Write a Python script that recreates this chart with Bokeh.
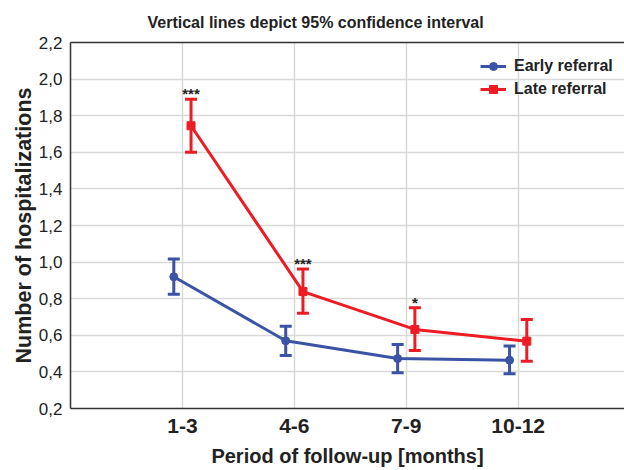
from bokeh.plotting import figure
from bokeh.models import (ColumnDataSource, Whisker, TeeHead, Range1d, FixedTicker,
                          LinearAxis, Legend, LegendItem)
from bokeh.core.properties import value
from bokeh.embed import file_html
from bokeh.resources import INLINE

# ---- data ----
periods = ["1-3", "4-6", "7-9", "10-12"]
early_mean = [0.92, 0.57, 0.473, 0.464]
early_lower = [0.825, 0.49, 0.395, 0.39]
early_upper = [1.017, 0.65, 0.55, 0.541]
late_mean = [1.745, 0.839, 0.632, 0.568]
late_lower = [1.60, 0.72, 0.517, 0.458]
late_upper = [1.89, 0.962, 0.751, 0.687]
stars = ["***", "***", "*", ""]
y_ticks = [0.2, 0.4, 0.6, 0.8, 1.0, 1.2, 1.4, 1.6, 1.8, 2.0, 2.2]

BLUE = "#3a53a4"
RED = "#ed1c24"
FONT = "Liberation Sans"
TXT = "#222222"
OFF = 0.077

pos = list(range(1, len(periods) + 1))
early_src = ColumnDataSource(dict(x=[p - OFF for p in pos], y=early_mean,
                                  lo=early_lower, hi=early_upper))
late_src = ColumnDataSource(dict(x=[p + OFF for p in pos], y=late_mean,
                                 lo=late_lower, hi=late_upper, s=stars))

p = figure(width=624, height=470, output_backend="svg", toolbar_location=None,
           x_range=Range1d(0, 4.95), y_range=Range1d(0.2, 2.2),
           min_border_left=70, min_border_right=0, min_border_top=10,
           min_border_bottom=62)

p.title.text = "Vertical lines depict 95% confidence interval"
p.title.align = "left"
p.title.offset = 77
p.title.text_font = FONT
p.title.text_font_size = "16px"
p.title.text_font_style = "bold"
p.title.text_color = TXT
p.title.standoff = 23

p.outline_line_color = None
p.background_fill_color = "white"
p.grid.grid_line_color = "#d9d9d9"
p.grid.grid_line_width = 1.5

# x axis
p.xaxis.ticker = FixedTicker(ticks=pos)
p.xaxis.major_label_overrides = {i: lab for i, lab in zip(pos, periods)}
p.xaxis.major_label_text_font = FONT
p.xaxis.major_label_text_font_size = "21px"
p.xaxis.major_label_text_font_style = "bold"
p.xaxis.major_label_text_color = TXT
p.xaxis.major_label_standoff = 4
p.xaxis.axis_label = "Period of follow-up [months]"
p.xaxis.axis_label_text_font = FONT
p.xaxis.axis_label_text_font_size = "20px"
p.xaxis.axis_label_text_font_style = "bold"
p.xaxis.axis_label_text_color = TXT
p.xaxis.axis_label_standoff = 9

# y axis
p.yaxis.ticker = FixedTicker(ticks=y_ticks)
p.yaxis.major_label_overrides = {t: f"{t:.1f}".replace(".", ",") for t in y_ticks}
p.yaxis.major_label_text_font = FONT
p.yaxis.major_label_text_font_size = "17px"
p.yaxis.major_label_text_color = TXT
p.yaxis.major_label_standoff = 2
p.yaxis.axis_label = "Number of hospitalizations"
p.yaxis.axis_label_text_font = FONT
p.yaxis.axis_label_text_font_size = "21.5px"
p.yaxis.axis_label_text_font_style = "bold"
p.yaxis.axis_label_text_color = TXT
p.yaxis.axis_label_standoff = 0

for ax in (p.xaxis, p.yaxis):
    ax.major_tick_line_color = None
    ax.minor_tick_line_color = None
    ax.axis_line_color = "#333333"
    ax.axis_line_width = 1.5

top = LinearAxis(ticker=FixedTicker(ticks=[]), major_label_text_font_size="0px",
                 major_tick_line_color=None, minor_tick_line_color=None,
                 axis_line_color="#333333", axis_line_width=1.5,
                 major_label_standoff=0)
p.add_layout(top, "above")

# series
eline = p.line("x", "y", source=early_src, line_color=BLUE, line_width=3)
lline = p.line("x", "y", source=late_src, line_color=RED, line_width=3)
for src, col in ((early_src, BLUE), (late_src, RED)):
    w = Whisker(source=src, base="x", lower="lo", upper="hi", line_color=col,
                line_width=3,
                upper_head=TeeHead(size=12, line_color=col, line_width=3),
                lower_head=TeeHead(size=12, line_color=col, line_width=3))
    p.add_layout(w)
emark = p.scatter("x", "y", source=early_src, marker="circle", size=8,
                  fill_color=BLUE, line_color=BLUE)
lmark = p.scatter("x", "y", source=late_src, marker="square", size=8,
                  fill_color=RED, line_color=RED)

p.text("x", "hi", text="s", source=late_src, text_font=value(FONT),
       text_font_size="15px", text_font_style="bold", text_align="center",
       text_baseline="bottom", text_color=TXT, y_offset=3)

legend = Legend(items=[LegendItem(label="Early referral", renderers=[eline, emark]),
                       LegendItem(label="Late referral", renderers=[lline, lmark])],
                location=(410, 309), background_fill_alpha=0, border_line_color=None,
                label_text_font=FONT, label_text_font_size="16px",
                label_text_font_style="bold", label_text_color=TXT,
                glyph_width=26, glyph_height=20, label_standoff=8, spacing=3,
                padding=0, margin=0)
p.add_layout(legend)

open("out.html", "w").write(file_html(p, INLINE))
